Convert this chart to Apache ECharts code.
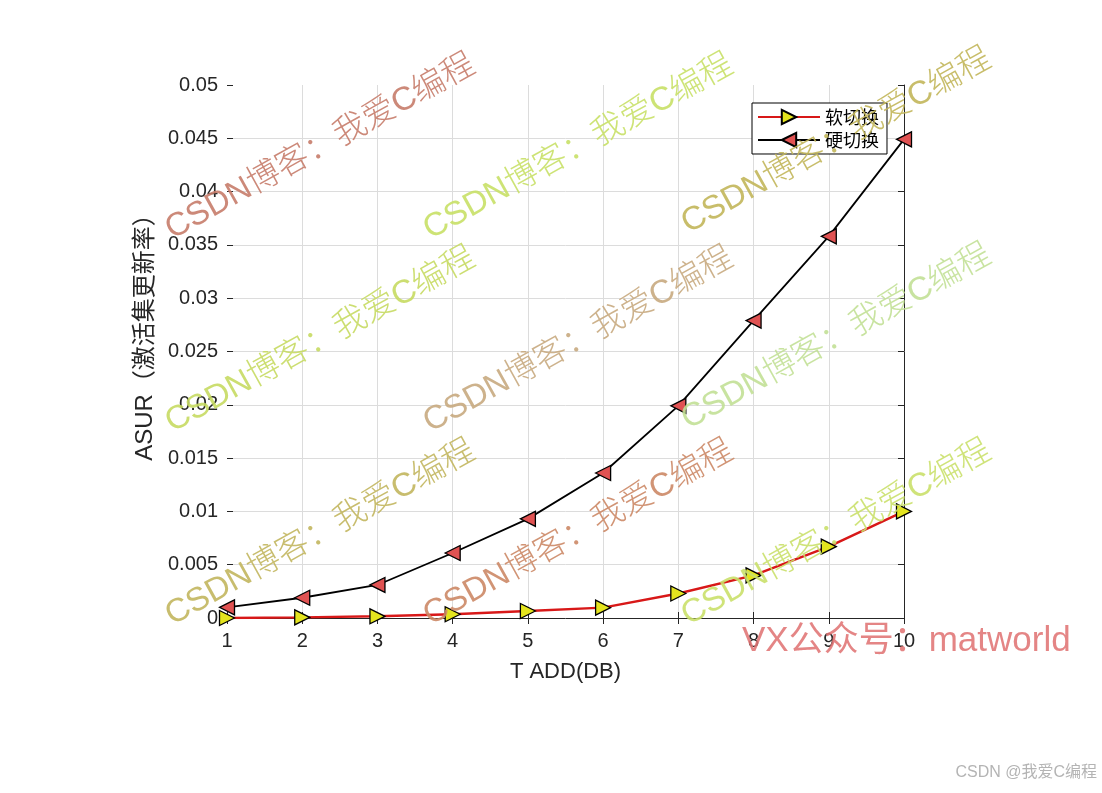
<!DOCTYPE html>
<html>
<head>
<meta charset="utf-8">
<script src="https://cdn.jsdelivr.net/npm/echarts@6/dist/echarts.min.js"></script>
<style>
html,body{margin:0;padding:0;background:#fff;}
#chart{width:1102px;height:793px;}
</style>
</head>
<body>
<div id="chart"></div>
<script>
// ---- data ----
const xValues = [1, 2, 3, 4, 5, 6, 7, 8, 9, 10];
const softHandover = [0, 0.00006, 0.00016, 0.00035, 0.00066, 0.00097, 0.0023, 0.0040, 0.0067, 0.0100];
const hardHandover = [0.0010, 0.0019, 0.0031, 0.0061, 0.0093, 0.0136, 0.0199, 0.0279, 0.0358, 0.0449];
const seriesNames = ['软切换', '硬切换'];
const xTickLabels = ['1', '2', '3', '4', '5', '6', '7', '8', '9', '10'];
const yTickLabels = ['0', '0.005', '0.01', '0.015', '0.02', '0.025', '0.03', '0.035', '0.04', '0.045', '0.05'];
const xAxisName = 'T ADD(DB)';
const yAxisName = 'ASUR（激活集更新率）';
const watermarkText = 'CSDN博客：我爱C编程';
const footerText = 'VX公众号：matworld';
const creditText = 'CSDN @我爱C编程';

const chart = echarts.init(document.getElementById('chart'), null, {renderer: 'canvas'});

const axisColor = '#262626';
const tickFont = {fontSize: 20, fontFamily: 'Liberation Sans, Arial, sans-serif', color: axisColor};

const wmFont = '300 33px "Liberation Sans", "Noto Sans CJK SC", sans-serif';
const wmRot = 29 * Math.PI / 180;
const wmItems = [
  [176, 246, '#c67c6a'], [434, 246, '#c8e066'], [692, 240, '#c2b65a'],
  [176, 439, '#c6da62'], [434, 439, '#c8aa80'], [692, 436, '#c2e096'],
  [176, 632, '#c2b65e'], [434, 632, '#cc8866'], [692, 632, '#cae06a']
];
const graphics = wmItems.map(w => ({
  type: 'text', x: w[0], y: w[1], rotation: wmRot, z: 100, silent: true,
  style: {text: watermarkText, fill: w[2], font: wmFont, align: 'left', verticalAlign: 'bottom', opacity: 0.9}
}));
graphics.push({
  type: 'text', x: 742, y: 641, z: 100, silent: true,
  style: {text: footerText, fill: '#e07474', font: '35px "Liberation Sans", "Noto Sans CJK SC", sans-serif',
          align: 'left', verticalAlign: 'middle', opacity: 0.88}
});
graphics.push({
  type: 'text', x: 1097, y: 773, z: 100, silent: true,
  style: {text: creditText, fill: '#b4b4b4', font: '16px "Liberation Sans", "Noto Sans CJK SC", sans-serif',
          align: 'right', verticalAlign: 'middle'}
});

const option = {
  animation: false,
  backgroundColor: '#ffffff',
  grid: {left: 227, right: 198, top: 85, bottom: 175, containLabel: false},
  legend: {
    orient: 'vertical', left: 752, top: 103,
    data: seriesNames,
    itemWidth: 62, itemHeight: 18, itemGap: 5,
    padding: [5, 8, 5, 5],
    borderColor: '#000', borderWidth: 1, backgroundColor: '#fff',
    borderRadius: 0,
    textStyle: {fontSize: 18, fontFamily: 'Noto Sans CJK SC', color: '#000'}
  },
  xAxis: [{
    type: 'value', position: 'bottom', min: 1, max: 10, interval: 1,
    name: xAxisName, nameLocation: 'middle', nameGap: 43,
    nameTextStyle: {fontSize: 22, fontFamily: 'Liberation Sans, Arial, sans-serif', color: axisColor},
    axisLine: {show: true, lineStyle: {color: axisColor, width: 1}},
    axisTick: {show: true, inside: true, length: 6, lineStyle: {color: axisColor}},
    axisLabel: Object.assign({margin: 13, formatter: v => xTickLabels[Math.round(v) - 1]}, tickFont),
    splitLine: {show: true, showMinLine: false, showMaxLine: false, lineStyle: {color: '#dcdcdc', width: 1}}
  }, {
    type: 'value', position: 'top', min: 1, max: 10, interval: 1,
    axisLine: {show: false},
    axisTick: {show: true, inside: true, length: 6, lineStyle: {color: axisColor}},
    axisLabel: {show: false},
    splitLine: {show: false}
  }],
  yAxis: [{
    type: 'value', position: 'left', min: 0, max: 0.05, interval: 0.005,
    name: yAxisName, nameLocation: 'middle', nameGap: 70, nameRotate: 90,
    nameTextStyle: {fontSize: 24, fontFamily: 'Liberation Sans, Noto Sans CJK SC, sans-serif', color: axisColor,
                    padding: [0, 0, 0, 40]},
    axisLine: {show: false},
    axisTick: {show: true, inside: true, length: 6, lineStyle: {color: axisColor}},
    axisLabel: Object.assign({margin: 9, formatter: v => yTickLabels[Math.round(v / 0.005)]}, tickFont),
    splitLine: {show: true, showMinLine: false, showMaxLine: false, lineStyle: {color: '#dcdcdc', width: 1}}
  }, {
    type: 'value', position: 'right', min: 0, max: 0.05, interval: 0.005,
    axisLine: {show: true, lineStyle: {color: axisColor, width: 1}},
    axisTick: {show: true, inside: true, length: 6, lineStyle: {color: axisColor}},
    axisLabel: {show: false},
    splitLine: {show: false}
  }],
  series: [{
    name: seriesNames[0], type: 'line',
    data: xValues.map((x, i) => [x, softHandover[i]]),
    symbol: 'triangle', symbolRotate: -90, symbolSize: 15, showAllSymbol: true,
    lineStyle: {color: '#d81818', width: 2.4},
    itemStyle: {color: '#e4e41e', borderColor: '#000', borderWidth: 1.3},
    z: 3
  }, {
    name: seriesNames[1], type: 'line',
    data: xValues.map((x, i) => [x, hardHandover[i]]),
    symbol: 'triangle', symbolRotate: 90, symbolSize: 15, showAllSymbol: true,
    lineStyle: {color: '#000000', width: 1.8},
    itemStyle: {color: '#e05252', borderColor: '#000', borderWidth: 1.3},
    z: 4
  }],
  graphic: graphics
};
chart.setOption(option);
</script>
</body>
</html>
